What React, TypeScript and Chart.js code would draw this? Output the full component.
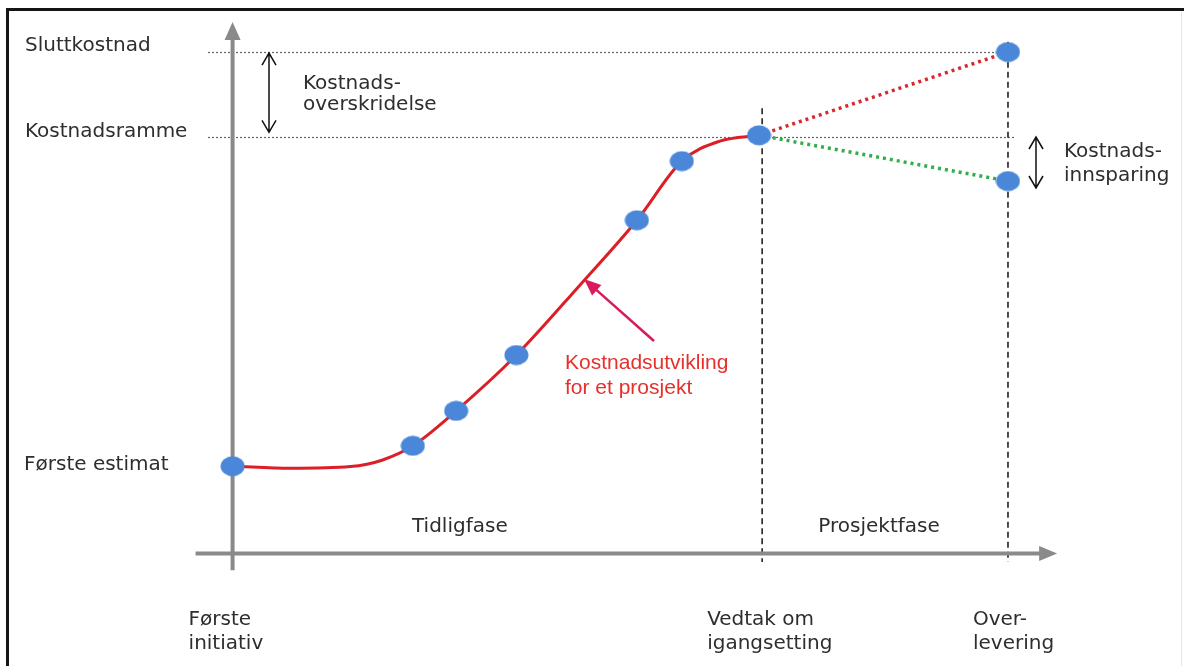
import React, { useEffect, useRef } from "react";
import { Chart, registerables } from "chart.js";

Chart.register(...registerables);

// ---- Data (time axis in arbitrary units, cost axis in arbitrary units) ----
// Milestones along the time axis
const milestoneX = [0, 100, 146.7];
const milestoneLabels = [
  ["Første", "initiativ"],
  ["Vedtak om", "igangsetting"],
  ["Over-", "levering"],
];

// Cost levels on the vertical axis
const levelValues = [21, 100, 120.5];
const levelLabels = ["Første estimat", "Kostnadsramme", "Sluttkostnad"];

// Traced cost development curve
const curveX = [0, 11, 22.3, 28.4, 34.1, 42.3, 53.7, 65.7, 76.5, 85.0, 92.2, 99.6];
const curveY = [21, 20.5, 20.9, 22.5, 25.9, 34.3, 47.7, 64.5, 80.1, 94.3, 99.1, 100.5];

// Estimate markers
const markerX = [0, 34.1, 42.3, 53.7, 76.5, 85.0, 99.6, 146.7, 146.7];
const markerY = [21, 25.9, 34.3, 47.7, 80.1, 94.3, 100.5, 120.5, 89.5];

// Project-phase outcomes
const overrunX = [99.6, 146.7];
const overrunY = [100.5, 120.5];
const savingX = [99.6, 146.7];
const savingY = [100.5, 89.5];

const phaseLabels = ["Tidligfase", "Prosjektfase"];
const phaseCenters = [43, 122.3];
const overrunLabel = ["Kostnads-", "overskridelse"];
const savingLabel = ["Kostnads-", "innsparing"];
const curveLabel = ["Kostnadsutvikling", "for et prosjekt"];

const toXY = (xs: number[], ys: number[]) => xs.map((x, i) => ({ x, y: ys[i] }));

function makeEllipse(): HTMLCanvasElement {
  const c = document.createElement("canvas");
  c.width = 25;
  c.height = 21;
  const g = c.getContext("2d")!;
  g.fillStyle = "#4a87d9";
  g.beginPath();
  g.ellipse(12.5, 10.5, 12, 10, 0, 0, Math.PI * 2);
  g.fill();
  return c;
}

const TEXT_FONT = '20px "DejaVu Sans"';
const TEXT_COLOR = "#2e2e2e";

const diagramPlugin = {
  id: "diagram",
  beforeDatasetsDraw(chart: any) {
    const { ctx } = chart;
    const xs = chart.scales.x;
    const ys = chart.scales.y;
    const px = (v: number) => xs.getPixelForValue(v);
    const py = (v: number) => ys.getPixelForValue(v);
    const line = (x1: number, y1: number, x2: number, y2: number) => {
      ctx.beginPath();
      ctx.moveTo(x1, y1);
      ctx.lineTo(x2, y2);
      ctx.stroke();
    };
    ctx.save();
    // frame
    ctx.strokeStyle = "#151515";
    ctx.lineWidth = 3;
    ctx.beginPath();
    ctx.moveTo(1184, 9.5);
    ctx.lineTo(7.5, 9.5);
    ctx.lineTo(7.5, 666);
    ctx.stroke();
    ctx.strokeStyle = "#e4e4e4";
    ctx.lineWidth = 1;
    line(1181.5, 12, 1181.5, 666);

    // dotted level lines
    ctx.strokeStyle = "#666";
    ctx.lineWidth = 1.2;
    ctx.setLineDash([2, 2]);
    line(208, Math.round(py(levelValues[2])) + 0.5, px(milestoneX[2]), Math.round(py(levelValues[2])) + 0.5);
    line(208, Math.round(py(levelValues[1])) + 0.5, 1016, Math.round(py(levelValues[1])) + 0.5);

    // dashed milestone verticals
    ctx.strokeStyle = "#222";
    ctx.lineWidth = 1.6;
    ctx.setLineDash([6, 4]);
    line(px(milestoneX[1]) + 1, py(107), px(milestoneX[1]) + 1, py(-2));
    line(px(milestoneX[2]), py(123), px(milestoneX[2]), py(-2));
    ctx.setLineDash([]);

    // axes
    ctx.strokeStyle = "#8a8a8a";
    ctx.fillStyle = "#8a8a8a";
    ctx.lineWidth = 4;
    const ax = px(0);
    const ay = py(0);
    const yTip = py(127.7);
    line(ax, py(-4), ax, yTip + 14);
    ctx.beginPath();
    ctx.moveTo(ax, yTip);
    ctx.lineTo(ax - 8, yTip + 18);
    ctx.lineTo(ax + 8, yTip + 18);
    ctx.closePath();
    ctx.fill();
    const xTip = px(156);
    line(px(-7), ay, xTip - 14, ay);
    ctx.beginPath();
    ctx.moveTo(xTip, ay);
    ctx.lineTo(xTip - 18, ay - 7.5);
    ctx.lineTo(xTip - 18, ay + 7.5);
    ctx.closePath();
    ctx.fill();
    ctx.restore();
  },
  afterDatasetsDraw(chart: any) {
    const { ctx } = chart;
    const xs = chart.scales.x;
    const ys = chart.scales.y;
    const px = (v: number) => xs.getPixelForValue(v);
    const py = (v: number) => ys.getPixelForValue(v);
    ctx.save();
    ctx.font = TEXT_FONT;
    ctx.fillStyle = TEXT_COLOR;
    ctx.textBaseline = "middle";
    ctx.textAlign = "left";

    // level labels
    ctx.fillText(levelLabels[2], 25, py(levelValues[2]) - 6);
    ctx.fillText(levelLabels[1], 25, py(levelValues[1]) - 6);
    ctx.fillText(levelLabels[0], 24, py(levelValues[0]) - 1);

    // milestone labels
    const offs = [-44, -54, -35];
    milestoneLabels.forEach((lines, i) => {
      const x = px(milestoneX[i]) + offs[i];
      ctx.fillText(lines[0], x, 620);
      ctx.fillText(lines[1], x, 644);
    });

    // phase labels
    ctx.textAlign = "center";
    phaseLabels.forEach((t, i) => ctx.fillText(t, px(phaseCenters[i]), py(0) - 27));

    // overrun / saving labels
    ctx.textAlign = "left";
    ctx.fillText(overrunLabel[0], 303, 84);
    ctx.fillText(overrunLabel[1], 303, 105);
    ctx.fillText(savingLabel[0], 1064, 152);
    ctx.fillText(savingLabel[1], 1064, 176);

    // double arrows
    const dbl = (x: number, y1: number, y2: number) => {
      ctx.strokeStyle = "#111";
      ctx.lineWidth = 1.5;
      ctx.beginPath();
      ctx.moveTo(x, y1);
      ctx.lineTo(x, y2);
      ctx.moveTo(x - 7, y1 + 12);
      ctx.lineTo(x, y1);
      ctx.lineTo(x + 7, y1 + 12);
      ctx.moveTo(x - 7, y2 - 12);
      ctx.lineTo(x, y2);
      ctx.lineTo(x + 7, y2 - 12);
      ctx.stroke();
    };
    dbl(269, py(levelValues[2]) + 1, py(levelValues[1]) - 5);
    dbl(1036, 137, 188);

    // curve label with arrow
    ctx.fillStyle = "#e5302c";
    ctx.font = '21px "Liberation Sans", Arial, sans-serif';
    ctx.fillText(curveLabel[0], 565, 363);
    ctx.fillText(curveLabel[1], 565, 388);

    const tipX = 584, tipY = 279, tailX = 654, tailY = 341;
    const ang = Math.atan2(tipY - tailY, tipX - tailX);
    ctx.strokeStyle = "#d81b5a";
    ctx.fillStyle = "#d81b5a";
    ctx.lineWidth = 2.5;
    ctx.beginPath();
    ctx.moveTo(tailX, tailY);
    ctx.lineTo(tipX - Math.cos(ang) * 10, tipY - Math.sin(ang) * 10);
    ctx.stroke();
    const hl = 17, hw = 7;
    const bx = tipX - Math.cos(ang) * hl;
    const by = tipY - Math.sin(ang) * hl;
    ctx.beginPath();
    ctx.moveTo(tipX, tipY);
    ctx.lineTo(bx + Math.sin(ang) * hw, by - Math.cos(ang) * hw);
    ctx.lineTo(bx - Math.sin(ang) * hw, by + Math.cos(ang) * hw);
    ctx.closePath();
    ctx.fill();
    ctx.restore();
  },
};

export default function App() {
  const ref = useRef<HTMLCanvasElement | null>(null);
  useEffect(() => {
    if (!ref.current) return;
    const ellipse = makeEllipse();
    const chart = new Chart(ref.current, {
      type: "line",
      data: {
        datasets: [
          {
            label: "Estimater",
            data: toXY(markerX, markerY),
            showLine: false,
            pointStyle: ellipse as any,
            pointRadius: 11,
            borderColor: "#4a87d9",
            backgroundColor: "#4a87d9",
          },
          {
            label: "Kostnadsoverskridelse",
            data: toXY(overrunX, overrunY),
            borderColor: "#d8282c",
            borderWidth: 3.5,
            borderDash: [3, 4],
            pointRadius: 0,
            fill: false,
          },
          {
            label: "Kostnadsinnsparing",
            data: toXY(savingX, savingY),
            borderColor: "#2fae49",
            borderWidth: 3.5,
            borderDash: [3, 4],
            pointRadius: 0,
            fill: false,
          },
          {
            label: "Kostnadsutvikling",
            data: toXY(curveX, curveY),
            borderColor: "#dc1f26",
            borderWidth: 3,
            pointRadius: 0,
            cubicInterpolationMode: "monotone",
            fill: false,
          },
        ],
      },
      options: {
        responsive: false,
        animation: false,
        devicePixelRatio: 1,
        layout: { padding: 0, autoPadding: false },
        scales: {
          x: { type: "linear", min: -44, max: 180, display: false },
          y: { type: "linear", min: -27, max: 133, display: false },
        },
        plugins: {
          legend: { display: false },
          tooltip: { enabled: false },
        },
      },
      plugins: [diagramPlugin],
    } as any);
    return () => chart.destroy();
  }, []);
  return (
    <div style={{ position: "absolute", left: 0, top: 0, width: 1184, height: 666, background: "#fff" }}>
      <canvas ref={ref} width={1184} height={666} style={{ display: "block" }} />
    </div>
  );
}
